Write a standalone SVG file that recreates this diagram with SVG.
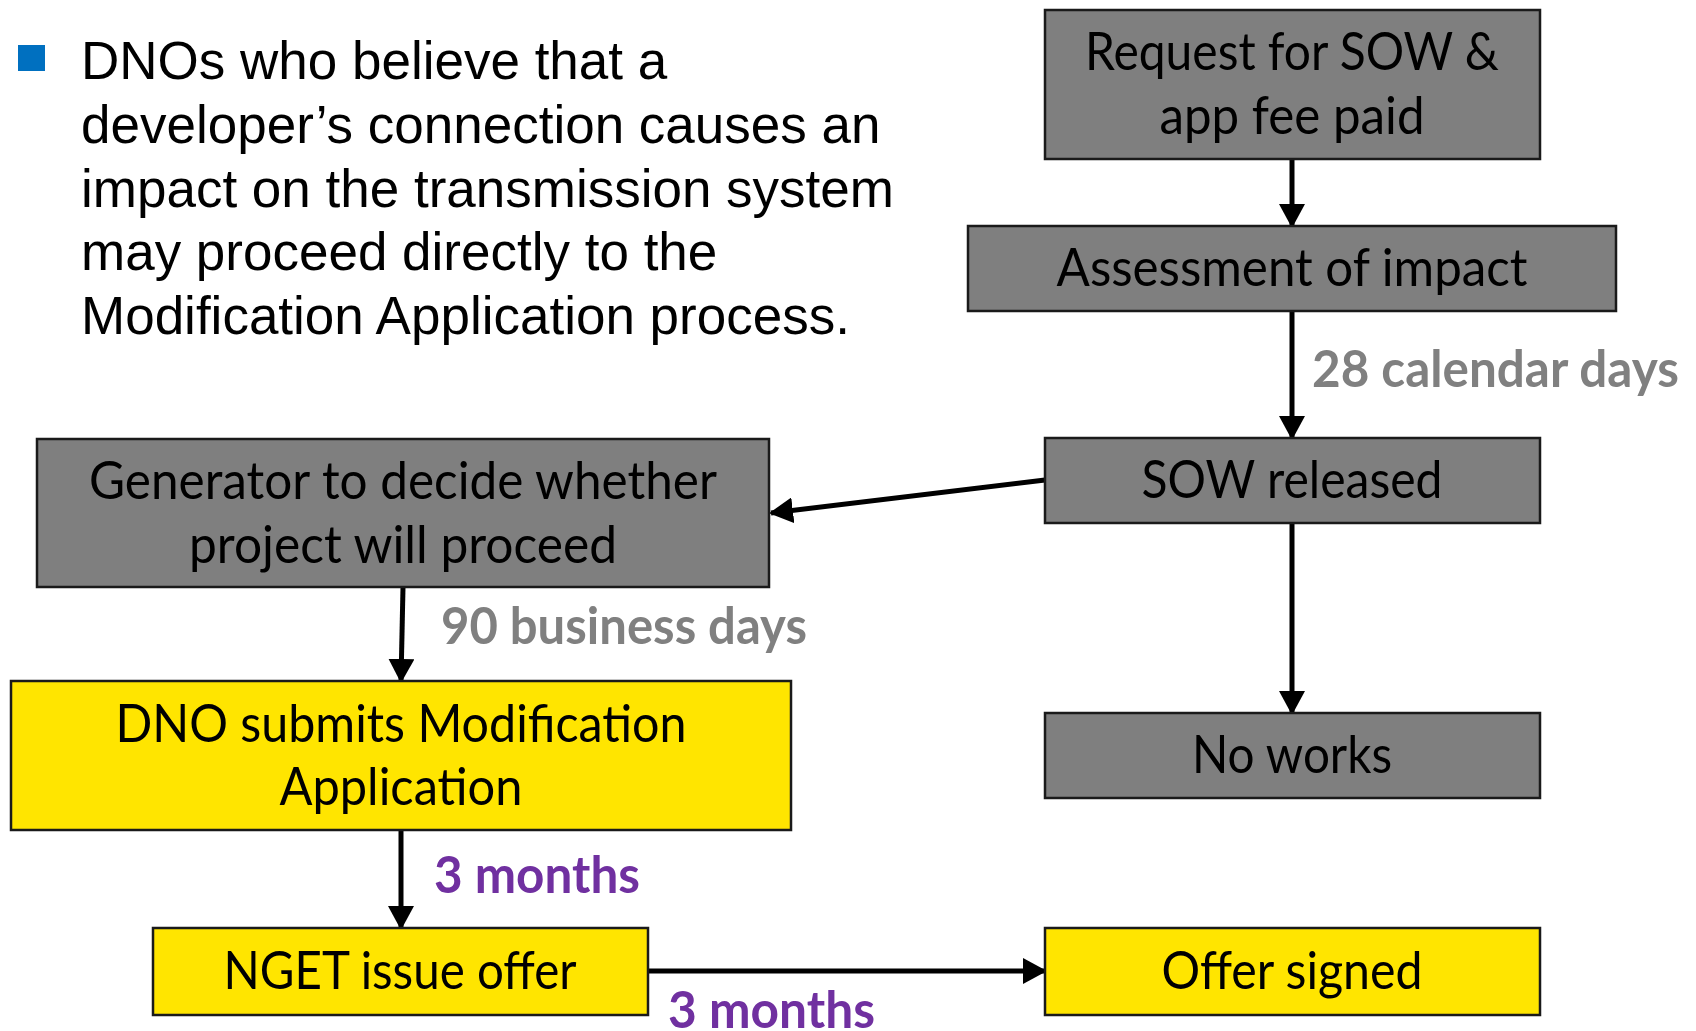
<svg xmlns="http://www.w3.org/2000/svg" width="1696" height="1031" viewBox="0 0 1696 1031">
<style>
.box{stroke:#1a1a1a;stroke-width:2.5}
.gray{fill:#7f7f7f}
.yellow{fill:#ffe500}
.nt{font-family:Lato,"Open Sans",sans-serif;font-size:52px;fill:#000;text-anchor:middle}
.para{font-family:"Liberation Sans",Arial,sans-serif;font-size:53px;fill:#000}
.lbl{font-family:Lato,"Open Sans",sans-serif;font-size:52px;font-weight:bold}
.lg{fill:#808080}
.lp{fill:#7030a0}
.conn{stroke:#000;stroke-width:5;fill:none;marker-end:url(#ah)}
</style>
<defs>
<marker id="ah" markerUnits="userSpaceOnUse" markerWidth="24" markerHeight="26" refX="22" refY="13" orient="auto">
<path d="M0,0 L24,13 L0,26 z" fill="#000"/>
</marker>
</defs>
<rect width="1696" height="1031" fill="#fff"/>
<g id="bullet-text">
<rect x="18" y="45" width="27" height="26" fill="#0070c0"/>
<text class="para" x="81" y="79">DNOs who believe that a</text>
<text class="para" x="81" y="143">developer’s connection causes an</text>
<text class="para" x="81" y="207">impact on the transmission system</text>
<text class="para" x="81" y="270">may proceed directly to the</text>
<text class="para" x="81" y="334">Modification Application process.</text>
</g>
<g id="connectors">
<line class="conn" x1="1292" y1="159" x2="1292" y2="226"/>
<line class="conn" x1="1292" y1="311" x2="1292" y2="438"/>
<line class="conn" x1="1292" y1="523" x2="1292" y2="713"/>
<line class="conn" x1="1045" y1="480" x2="771" y2="513"/>
<line class="conn" x1="403" y1="587" x2="401" y2="681"/>
<line class="conn" x1="401" y1="830" x2="401" y2="928"/>
<line class="conn" x1="648" y1="971" x2="1045" y2="971"/>
</g>
<g id="n-request">
<rect class="box gray" x="1045" y="10" width="495" height="149"/>
<text class="nt" x="1292" y="70" textLength="414" lengthAdjust="spacingAndGlyphs">Request for SOW &amp;</text>
<text class="nt" x="1292" y="134" textLength="265" lengthAdjust="spacingAndGlyphs">app fee paid</text>
</g>
<g id="n-assessment">
<rect class="box gray" x="968" y="226" width="648" height="85"/>
<text class="nt" x="1292" y="286" textLength="471" lengthAdjust="spacingAndGlyphs">Assessment of impact</text>
</g>
<g id="n-sow">
<rect class="box gray" x="1045" y="438" width="495" height="85"/>
<text class="nt" x="1292" y="498" textLength="301" lengthAdjust="spacingAndGlyphs">SOW released</text>
</g>
<g id="n-noworks">
<rect class="box gray" x="1045" y="713" width="495" height="85"/>
<text class="nt" x="1292" y="773" textLength="200" lengthAdjust="spacingAndGlyphs">No works</text>
</g>
<g id="n-generator">
<rect class="box gray" x="37" y="439" width="732" height="148"/>
<text class="nt" x="403" y="499" textLength="628" lengthAdjust="spacingAndGlyphs">Generator to decide whether</text>
<text class="nt" x="403" y="563" textLength="428" lengthAdjust="spacingAndGlyphs">project will proceed</text>
</g>
<g id="n-dno">
<rect class="box yellow" x="11" y="681" width="780" height="149"/>
<text class="nt" x="401" y="742" textLength="571" lengthAdjust="spacingAndGlyphs">DNO submits Modification</text>
<text class="nt" x="401" y="805" textLength="243" lengthAdjust="spacingAndGlyphs">Application</text>
</g>
<g id="n-nget">
<rect class="box yellow" x="153" y="928" width="495" height="87"/>
<text class="nt" x="400" y="989" textLength="353" lengthAdjust="spacingAndGlyphs">NGET issue offer</text>
</g>
<g id="n-offer">
<rect class="box yellow" x="1045" y="928" width="495" height="87"/>
<text class="nt" x="1292" y="989" textLength="261" lengthAdjust="spacingAndGlyphs">Offer signed</text>
</g>
<g id="labels">
<text class="lbl lg" x="1312" y="387" textLength="367" lengthAdjust="spacingAndGlyphs">28 calendar days</text>
<text class="lbl lg" x="441" y="644" textLength="366" lengthAdjust="spacingAndGlyphs">90 business days</text>
<text class="lbl lp" x="434" y="893" textLength="206" lengthAdjust="spacingAndGlyphs">3 months</text>
<text class="lbl lp" x="668" y="1028" textLength="207" lengthAdjust="spacingAndGlyphs">3 months</text>
</g>
</svg>
